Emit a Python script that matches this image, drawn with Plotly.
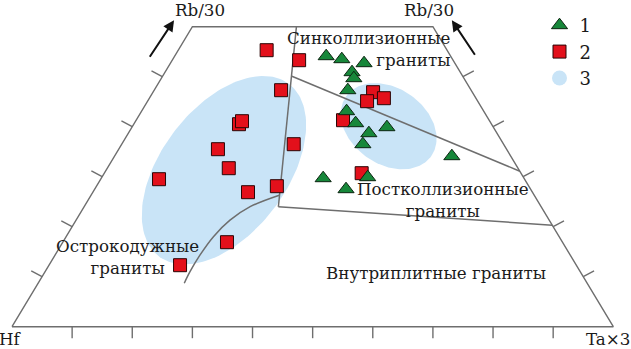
import numpy as np
import plotly.graph_objects as go

# ---------------- data: ternary compositions, percent ----------------
# components: Hf, Rb/30, Ta*3  (Hf = 100 - Rb - Ta)
s1_rb = [54.1, 53.5, 52.7, 50.9, 49.7, 47.3, 43.1, 40.7, 38.7, 39.9, 36.5, 34.1, 29.7, 29.9, 27.5]
s1_ta = [25.2, 28.1, 32.2, 31.1, 32.0, 32.2, 34.1, 36.8, 40.0, 42.4, 40.1, 56.1, 36.9, 44.2, 41.8]
s2_rb = [55.3, 53.3, 47.3, 40.5, 41.1, 35.5, 36.5, 31.7, 29.5, 26.9, 28.1, 16.9, 12.3, 46.9, 45.7, 45.1, 41.3, 30.7]
s2_ta = [14.7, 21.1, 21.1, 17.5, 17.7, 16.5, 28.6, 20.2, 9.7, 25.8, 30.0, 27.3, 21.8, 36.6, 39.0, 36.5, 34.4, 42.8]

# field boundaries (Rb, Ta), percent
b_vert_rb = [60.0, 24.0]
b_vert_ta = [17.3, 32.3]
b_low_rb = [24.0, 20.3]
b_low_ta = [32.3, 79.7]
b_syn_rb = [50.1, 31.1]
b_syn_ta = [21.5, 68.9]
b_curve_rb = [26.3, 24.0, 21.3, 18.0, 14.3, 11.0, 8.7]
b_curve_ta = [31.3, 27.6, 25.6, 24.5, 24.1, 24.1, 24.3]

# frame: truncated at Rb = 60 %
frame_rb = [0, 60, 60, 0, 0]
frame_ta = [0, 0, 40, 100, 0]
tick_vals = [10, 20, 30, 40, 50, 60, 70, 80, 90]

labels = ["1", "2", "3"]


def to_xy(rb, ta):
    rb = np.asarray(rb, float) / 100.0
    ta = np.asarray(ta, float) / 100.0
    return ta + rb / 2.0, rb


Y_PER_X = 601.3 / 500.0  # equal on-screen length


def ellipse(rb_c, ta_c, a, b, ang, n=160):
    xc, yc = to_xy(rb_c, ta_c)
    s = np.linspace(0, 2 * np.pi, n)
    p = np.radians(ang)
    dx = a * np.cos(p) * np.cos(s) - b * np.sin(p) * np.sin(s)
    dy = a * np.sin(p) * np.cos(s) + b * np.cos(p) * np.sin(s)
    return xc + dx, yc + dy * Y_PER_X


BLUE = "#c9e4f7"
GREY = "#6e6e6e"
FONT = "DejaVu Serif, Liberation Serif, serif"
FS = 16.7

fig = go.Figure()

for (rc, tc, a, b, ang) in [(31.3, 19.6, 0.1796, 0.1048, 53), (40.1, 42.6, 0.0865, 0.0632, -35)]:
    ex, ey = ellipse(rc, tc, a, b, ang)
    fig.add_trace(go.Scatter(x=ex, y=ey, mode="lines", fill="toself", fillcolor=BLUE,
                             line=dict(width=0), hoverinfo="skip", showlegend=False))

# frame
fx, fy = to_xy(frame_rb, frame_ta)
fig.add_trace(go.Scatter(x=fx, y=fy, mode="lines", line=dict(color=GREY, width=1.4),
                         hoverinfo="skip", showlegend=False))

# ticks
tx, ty = [], []
for v in tick_vals:
    x0, y0 = to_xy(0, v)
    tx += [x0, x0, None]
    ty += [y0, y0 - 0.023, None]
for v in tick_vals[:5]:
    x0, y0 = to_xy(v, 0)
    tx += [x0, x0 - 0.018, None]
    ty += [y0, y0 + 0.0116, None]
    x0, y0 = to_xy(v, 100 - v)
    tx += [x0, x0 + 0.018, None]
    ty += [y0, y0 + 0.0116, None]
fig.add_trace(go.Scatter(x=tx, y=ty, mode="lines", line=dict(color=GREY, width=1.4),
                         hoverinfo="skip", showlegend=False))

# boundaries
for rb, ta, shape in [(b_vert_rb, b_vert_ta, "linear"), (b_low_rb, b_low_ta, "linear"),
                      (b_syn_rb, b_syn_ta, "linear"), (b_curve_rb, b_curve_ta, "spline")]:
    bx, by = to_xy(rb, ta)
    fig.add_trace(go.Scatter(x=bx, y=by, mode="lines", line=dict(color=GREY, width=1.5, shape=shape),
                             hoverinfo="skip", showlegend=False))

# series 2 (squares)
x2, y2 = to_xy(s2_rb, s2_ta)
fig.add_trace(go.Scatter(x=x2, y=y2, mode="markers", name=labels[1], legendrank=2,
                         marker=dict(symbol="square", size=13, color="#e3101b",
                                     line=dict(color="#2a0505", width=1))))
# series 1 (triangles)
x1, y1 = to_xy(s1_rb, s1_ta)
fig.add_trace(go.Scatter(x=x1, y=y1, mode="markers", name=labels[0], legendrank=1,
                         marker=dict(symbol="triangle-up", size=14, color="#17873a",
                                     line=dict(color="#0b2410", width=1))))
# legend entry for fields
fig.add_trace(go.Scatter(x=[None], y=[None], mode="markers", name=labels[2], legendrank=3,
                         marker=dict(symbol="circle", size=15, color=BLUE)))

ann = []


def label(rb, ta, text, size=FS, **kw):
    x, y = to_xy(rb, ta)
    d = dict(x=float(x), y=float(y), text=text, showarrow=False, xref="x", yref="y",
             font=dict(family=FONT, size=size, color="#1a1a1a"))
    d.update(kw)
    ann.append(d)


# text positions given as (Rb, Ta) in percent (may lie outside the frame)
label(63.3, -0.4, "Rb/30")
label(63.3, 37.7, "Rb/30")
label(-2.5, 1.0, "Hf")
label(-2.5, 100.4, "Ta×3")
label(55.5, 45.6, "Синколлизионные<br>граниты", xanchor="right", align="right")
label(25.3, 59.0, "Постколлизионные<br>граниты")
label(10.7, 65.1, "Внутриплитные граниты")
label(13.9, 12.2, "Острокодужные<br>граниты")

# arrows (tail -> head) in (Rb, Ta)
for (rt, tt), (rh, th) in [((53.7, -4.1), (61.3, -3.7)), ((54.1, 50.1), (61.3, 42.5))]:
    hx, hy = to_xy(rh, th)
    ax_, ay_ = to_xy(rt, tt)
    ann.append(dict(x=float(hx), y=float(hy), ax=float(ax_), ay=float(ay_), xref="x", yref="y",
                    axref="x", ayref="y", showarrow=True, arrowhead=2, arrowsize=1.1,
                    arrowwidth=2, arrowcolor="#111111", text=""))

fig.update_layout(
    width=631, height=349, margin=dict(l=0, r=0, t=0, b=0),
    paper_bgcolor="white", plot_bgcolor="white",
    xaxis=dict(range=[-0.01996, 1.02944], visible=False, fixedrange=True),
    yaxis=dict(range=[-0.0446, 0.6534], visible=False, fixedrange=True),
    annotations=ann,
    legend=dict(x=0.855, y=0.98, xanchor="left", yanchor="top", bgcolor="rgba(0,0,0,0)",
                font=dict(family=FONT, size=18, color="#1a1a1a"), traceorder="normal"),
    showlegend=True,
)

fig.write_html("out.html", config={"displayModeBar": False},
               post_script="document.body.style.margin='0';document.body.style.overflow='hidden';")
